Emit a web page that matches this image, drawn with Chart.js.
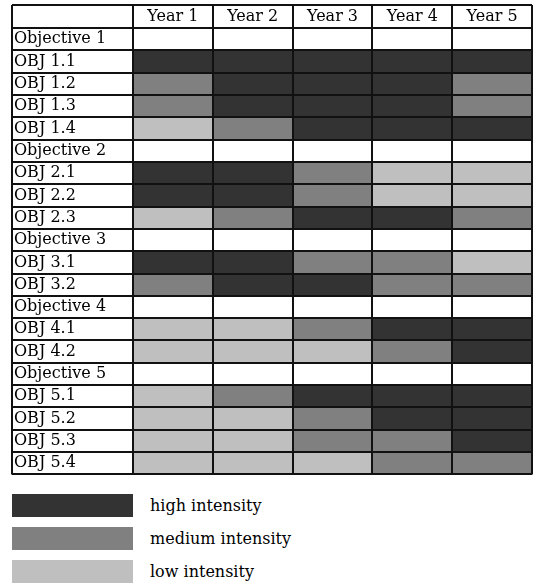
<!DOCTYPE html>
<html>
<head>
<meta charset="utf-8">
<script src="https://cdn.jsdelivr.net/npm/chart.js@4"></script>
<style>
  body { margin: 0; background: #fff; font-family: "DejaVu Serif", serif; }
  #wrap { position: relative; width: 535px; height: 487px; }
  #legend { margin-top: 7px; }
  .item { display: flex; align-items: center; height: 23px; margin-bottom: 10px; }
  .swatch { width: 121px; height: 23px; margin-left: 12px; }
  .item span { margin-left: 17px; font-size: 16px; color: #000; }
</style>
</head>
<body>
<div id="wrap"><canvas id="grid"></canvas></div>
<div id="legend"></div>
<script>
let years = ['Year 1', 'Year 2', 'Year 3', 'Year 4', 'Year 5'];

let rowLabels = [
    'Objective 1', 'OBJ 1.1', 'OBJ 1.2', 'OBJ 1.3', 'OBJ 1.4',
    'Objective 2', 'OBJ 2.1', 'OBJ 2.2', 'OBJ 2.3',
    'Objective 3', 'OBJ 3.1', 'OBJ 3.2',
    'Objective 4', 'OBJ 4.1', 'OBJ 4.2',
    'Objective 5', 'OBJ 5.1', 'OBJ 5.2', 'OBJ 5.3', 'OBJ 5.4'
];

// 3 = high, 2 = medium, 1 = low, null = objective header row
let year1 = [null, 3, 2, 2, 1, null, 3, 3, 1, null, 3, 2, null, 1, 1, null, 1, 1, 1, 1];
let year2 = [null, 3, 3, 3, 2, null, 3, 3, 2, null, 3, 3, null, 1, 1, null, 2, 1, 1, 1];
let year3 = [null, 3, 3, 3, 3, null, 2, 2, 3, null, 2, 3, null, 2, 1, null, 3, 2, 2, 1];
let year4 = [null, 3, 3, 3, 3, null, 1, 1, 3, null, 2, 2, null, 3, 2, null, 3, 3, 2, 2];
let year5 = [null, 3, 2, 2, 3, null, 1, 1, 2, null, 1, 2, null, 3, 3, null, 3, 3, 3, 2];

let intensityLabels = ['high intensity', 'medium intensity', 'low intensity'];
let intensityLevels = [3, 2, 1];
let intensityColors = ['#333333', '#808080', '#bfbfbf'];

const lineColor = '#111111';
const lineW = 2;
const font = { family: 'DejaVu Serif', size: 16 };

function colorFor(level) {
    const i = intensityLevels.indexOf(level);
    return i < 0 ? 'rgba(0,0,0,0)' : intensityColors[i];
}

const yearData = [year1, year2, year3, year4, year5];

const datasets = yearData.map((levels, j) => ({
    label: years[j],
    data: levels.map(v => v === null ? null : [j, j + 1]),
    backgroundColor: levels.map(colorFor),
    borderWidth: 0,
    barPercentage: 1,
    categoryPercentage: 1,
    grouped: false
}));

// outer frame of the table (top edge and left edge of the label column)
const framePlugin = {
    id: 'frame',
    afterDraw(chart) {
        const ctx = chart.ctx;
        const y = chart.scales.y;
        const x2 = chart.scales.x2;
        const left = y.right - y.options.grid.tickLength;
        ctx.save();
        ctx.strokeStyle = lineColor;
        ctx.lineWidth = lineW;
        ctx.beginPath();
        ctx.moveTo(left, x2.top);
        ctx.lineTo(x2.right, x2.top);
        ctx.moveTo(left, x2.top);
        ctx.lineTo(left, y.bottom);
        ctx.stroke();
        ctx.restore();
    }
};

const config = {
    type: 'bar',
    data: { labels: rowLabels, datasets: datasets },
    options: {
        indexAxis: 'y',
        responsive: true,
        maintainAspectRatio: false,
        animation: false,
        layout: { padding: { left: 14, right: 3, top: 5, bottom: 4 } },
        scales: {
            x: {
                type: 'linear',
                min: 0,
                max: years.length,
                display: false
            },
            x2: {
                type: 'category',
                labels: years,
                position: 'top',
                offset: true,
                grid: { offset: true, color: lineColor, lineWidth: lineW, tickLength: 23, z: 1 },
                border: { color: lineColor, width: lineW, z: 1 },
                ticks: { font: font, color: '#000', padding: -21, maxRotation: 0 },
                afterFit(scale) { scale.height = 23; }
            },
            y: {
                type: 'category',
                position: 'left',
                offset: true,
                grid: { offset: true, color: lineColor, lineWidth: lineW, tickLength: 121, z: 1 },
                border: { color: lineColor, width: lineW, z: 1 },
                ticks: { font: font, color: '#000', crossAlign: 'far', autoSkip: false },
                afterFit(scale) { scale.width = 119; }
            }
        },
        plugins: {
            legend: { display: false },
            tooltip: { enabled: false }
        }
    },
    plugins: [framePlugin]
};

const chart = new Chart(document.getElementById('grid'), config);

// legend
const legendEl = document.getElementById('legend');
intensityLabels.forEach((text, i) => {
    const item = document.createElement('div');
    item.className = 'item';
    const sw = document.createElement('div');
    sw.className = 'swatch';
    sw.style.background = intensityColors[i];
    const label = document.createElement('span');
    label.textContent = text;
    item.appendChild(sw);
    item.appendChild(label);
    legendEl.appendChild(item);
});
</script>
</body>
</html>
